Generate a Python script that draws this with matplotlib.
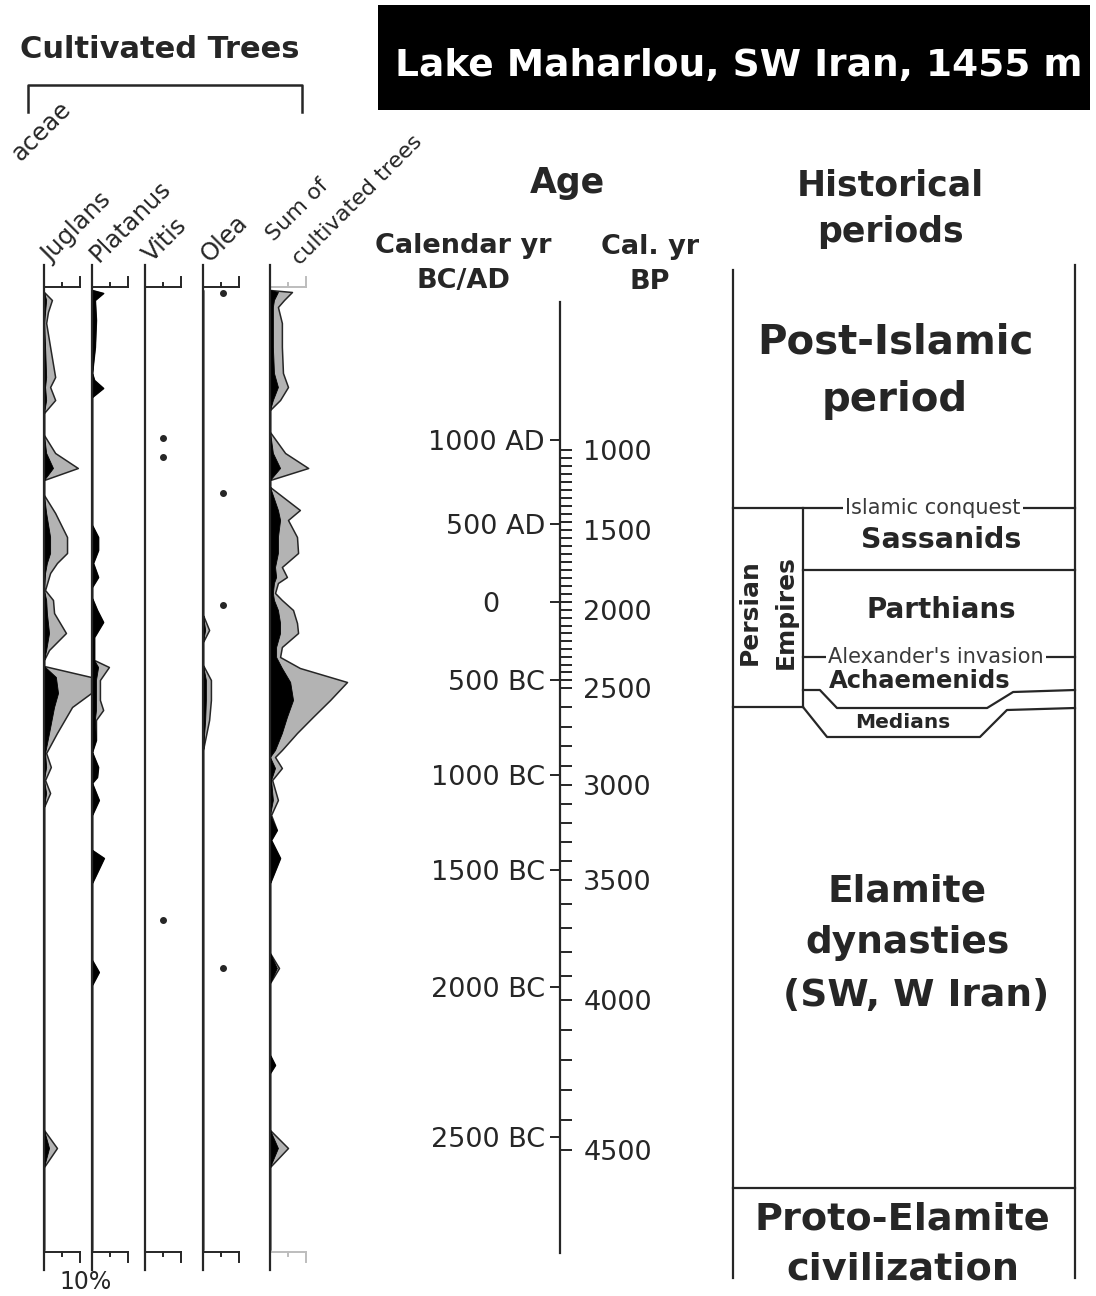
import numpy as np
import matplotlib
matplotlib.use("Agg")
import matplotlib.pyplot as plt
from matplotlib.patches import Rectangle
from matplotlib import transforms

W, H = 1096, 1296
TOP, BOT = 290, 1252          # pixel rows of depth 0 and of the deepest level drawn
DEPTH_MAX = BOT - TOP
PX_PER_PCT = 3.6              # 10 % = 36 px on every pollen column
INK = "#262626"
GREY = "#b3b3b3"

# ---- pollen curves: depth, percentage (black) and exaggerated curve (grey) ----
juglans_depth = [2, 10, 22, 33, 57, 87, 97, 110, 123, 145, 163, 178, 190, 205, 223, 247, 263, 273,
                 283, 300, 310, 323, 343, 360, 370, 376, 387, 403, 417, 443, 463, 477, 490, 503, 517,
                 840, 858, 877, 960]
juglans_pct = [0, 0.6, 0.3, 0, 0.3, 0.6, 0.3, 0.6, 0, 0, 0.6, 2.5, 0, 0, 0.6, 1.7, 1.7, 0.8,
               0.3, 0, 0.6, 0.8, 1.4, 0.6, 0, 0, 3.3, 3.9, 2.8, 1.4, 0.3, 0.6, 0, 0.6, 0,
               0, 1.4, 0, 0]
juglans_exag = [0, 2.2, 1.1, 0.6, 1.7, 3.1, 1.7, 3.1, 0, 0, 3.1, 9.4, 0, 0, 3.1, 6.4, 6.4, 3.6,
                1.7, 0.3, 2.5, 2.8, 6.1, 1.4, 0, 0, 13.1, 13.1, 7.8, 3.6, 0.6, 1.9, 0.3, 1.7, 0,
                0, 3.6, 0, 0]

platanus_depth = [0, 3, 10, 30, 57, 83, 90, 98, 107, 235, 247, 260, 273, 287, 297, 308, 320, 332,
                  347, 370, 377, 390, 410, 420, 430, 450, 462, 477, 487, 493, 510, 525, 560, 568,
                  593, 670, 682, 695, 960]
platanus_pct = [0, 3.1, 0.8, 1.1, 0.8, 0, 0.6, 3.1, 0, 0, 1.7, 1.7, 0.3, 1.7, 0, 0, 1.4, 3.1,
                0.6, 0.6, 1.7, 1.1, 1.1, 1.1, 0.8, 1.1, 0, 1.7, 1.4, 0, 1.9, 0, 0, 3.3,
                0, 0, 1.9, 0, 0]
platanus_exag = [0, 3.1, 0.8, 1.1, 0.8, 0, 0.6, 3.1, 0, 0, 1.7, 1.7, 0.3, 1.7, 0, 0, 1.4, 3.1,
                 0.6, 0.6, 4.7, 2.2, 2.2, 3.1, 1.1, 1.1, 0, 1.7, 1.4, 0, 1.9, 0, 0, 3.3,
                 0, 0, 1.9, 0, 0]

olea_depth = [0, 310, 325, 340, 352, 375, 390, 410, 430, 460, 960]
olea_pct = [0, 0, 0, 0.6, 0, 0, 0.8, 0.8, 0.6, 0, 0]
olea_exag = [0, 0, 0, 1.7, 0, 0, 2.2, 2.2, 1.7, 0, 0]

sum_depth = [0, 2, 10, 17, 33, 57, 83, 97, 110, 120, 142, 163, 178, 190, 197, 220, 230, 247, 263,
             277, 287, 293, 303, 310, 320, 333, 343, 357, 367, 378, 392, 410, 427, 443, 460, 467,
             478, 490, 510, 525, 540, 550, 568, 593, 663, 678, 693, 765, 775, 783, 840, 858, 877,
             960]
sum_pct = [0, 2.2, 1.1, 0.8, 0.8, 0.8, 1.1, 2.2, 0.8, 0, 0, 0.8, 2.8, 0, 0, 2.2, 2.8, 2.2, 2.2,
           1.4, 1.7, 1.1, 0.8, 1.1, 2.2, 2.8, 2.8, 1.7, 1.7, 3.3, 5.6, 6.4, 4.7, 3.3, 1.4, 0,
           1.4, 0.3, 0.8, 0, 1.9, 0.3, 2.8, 0, 0, 1.9, 0, 0, 1.4, 0, 0, 2.2, 0, 0]
sum_exag = [0, 6.1, 3.9, 2.2, 3.3, 3.3, 3.6, 5.0, 2.8, 0, 0, 4.2, 10.6, 0, 0, 8.3, 5.0, 7.5, 7.8,
            3.3, 4.7, 2.2, 1.4, 3.3, 6.4, 7.5, 7.8, 3.3, 2.8, 8.3, 21.4, 16.7, 11.9, 7.5, 3.3, 1.4,
            3.3, 0.6, 2.2, 0.3, 1.9, 0.3, 2.8, 0, 0, 2.5, 0, 0, 1.4, 0, 0, 5.0, 0, 0]

# single grains (dots)
vitis_dots = [148, 167, 630]
olea_dots = [3, 203, 315, 678]

# ---- age scale ----
bp_labels = ["1000", "1500", "2000", "2500", "3000", "3500", "4000", "4500"]
bp_years = [1000, 1500, 2000, 2500, 3000, 3500, 4000, 4500]
bp_depths = [160, 240, 320, 398, 495, 590, 710, 860]
cal_labels = ["1000 AD", "500 AD", "0", "500 BC", "1000 BC", "1500 BC", "2000 BC", "2500 BC"]
cal_depths = [150, 234, 312, 390, 485, 580, 697, 847]

# ---- historical period boundaries (depth) ----
islamic_conquest = 218
sassanid_start = 280
alexander = 367
achaemenid_base, achaemenid_dip = 400, 418
persian_base = 417
median_base = 447
proto_elamite_top = 898

plt.rcParams["font.family"] = "DejaVu Sans"
fig = plt.figure(figsize=(W / 100, H / 100), dpi=100)

# pixel overlay for headers
ov = fig.add_axes([0, 0, 1, 1])
ov.set_xlim(0, W)
ov.set_ylim(H, 0)
ov.axis("off")
ov.patch.set_alpha(0)

ov.text(20, 50, "Cultivated Trees", fontsize=22, fontweight="bold", color=INK, va="center")
ov.plot([28, 28, 302, 302], [112, 85, 85, 112], color=INK, lw=1.8)
box = Rectangle((378, 5), 712, 105, facecolor="black", edgecolor="none")
ov.add_patch(box)
ov.text(395, 76, "Lake Maharlou, SW Iran, 1455 m", fontsize=27, fontweight="bold",
        color="white", va="baseline")

ov.text(567, 183, "Age", fontsize=25, fontweight="bold", color=INK, ha="center", va="center")
ov.text(463, 246, "Calendar yr", fontsize=19.5, fontweight="bold", color=INK, ha="center", va="center")
ov.text(463, 281, "BC/AD", fontsize=19.5, fontweight="bold", color=INK, ha="center", va="center")
ov.text(650, 247, "Cal. yr", fontsize=19.5, fontweight="bold", color=INK, ha="center", va="center")
ov.text(650, 282, "BP", fontsize=19.5, fontweight="bold", color=INK, ha="center", va="center")
ov.text(890, 185, "Historical", fontsize=25, fontweight="bold", color=INK, ha="center", va="center")
ov.text(890, 232, "periods", fontsize=25, fontweight="bold", color=INK, ha="center", va="center")

# ---- pollen columns ----
col_x = [44, 92, 145, 203, 270]
col_w = [48, 53, 58, 67, 90]
taxa = ["Juglans", "Platanus", "Vitis", "Olea", None]


def column_axes(x_px, w_px):
    ax = fig.add_axes([x_px / W, 1 - BOT / H, w_px / W, DEPTH_MAX / H])
    ax.set_xlim(0, w_px / PX_PER_PCT)
    ax.set_ylim(DEPTH_MAX, 0)
    ax.axis("off")
    ax.patch.set_alpha(0)
    ax.plot([0, 0], [-25, DEPTH_MAX + 18], color=INK, lw=1.6, clip_on=False, zorder=5)
    return ax


def scale_bars(ax, color):
    for yb, sgn in ((-3, -1), (DEPTH_MAX, 1)):
        ax.plot([0, 10], [yb, yb], color=color, lw=1.4, clip_on=False)
        ax.plot([5, 5], [yb, yb + sgn * 4], color=color, lw=1.4, clip_on=False)
        ax.plot([10, 10], [yb, yb + sgn * 10], color=color, lw=1.4, clip_on=False)


def draw_curve(ax, depth, pct, exag):
    ax.fill_betweenx(depth, 0, exag, facecolor=GREY, edgecolor=INK, lw=1.1, clip_on=False)
    ax.fill_betweenx(depth, 0, pct, facecolor="black", edgecolor="black", lw=0.6, clip_on=False)


axes = [column_axes(x, w) for x, w in zip(col_x, col_w)]
draw_curve(axes[0], juglans_depth, juglans_pct, juglans_exag)
draw_curve(axes[1], platanus_depth, platanus_pct, platanus_exag)
draw_curve(axes[3], olea_depth, olea_pct, olea_exag)
draw_curve(axes[4], sum_depth, sum_pct, sum_exag)
axes[2].plot([5.0] * len(vitis_dots), vitis_dots, "o", ms=4, color=INK, clip_on=False)
axes[3].plot([5.5] * len(olea_dots), olea_dots, "o", ms=4, color=INK, clip_on=False)
for i, ax in enumerate(axes):
    scale_bars(ax, INK if i < 4 else "#bdbdbd")

for x, name in zip(col_x, taxa):
    if name:
        ov.text(x + 7, 263, name, fontsize=17.5, color=INK, rotation=45,
                rotation_mode="anchor", ha="left", va="baseline")
ov.text(col_x[4] + 4, 242, "Sum of", fontsize=16, color=INK, rotation=45,
        rotation_mode="anchor", ha="left", va="baseline")
ov.text(col_x[4] + 30, 266, "cultivated trees", fontsize=16, color=INK, rotation=45,
        rotation_mode="anchor", ha="left", va="baseline")
# label of the column that lies beyond the left edge: only its ending shows
ov.text(72, 110, "aceae", fontsize=17.5, color=INK, rotation=45,
        rotation_mode="anchor", ha="right", va="baseline")
ov.text(86, 1282, "10%", fontsize=17, color=INK, ha="center", va="center")

# ---- age axis ----
ax_age = fig.add_axes([560 / W, 1 - BOT / H, 1 / W, DEPTH_MAX / H])
ax_age.set_ylim(DEPTH_MAX, 0)
ax_age.set_xticks([])
ax_age.patch.set_alpha(0)
for s in ("top", "bottom", "right"):
    ax_age.spines[s].set_visible(False)
ax_age.spines["left"].set_color(INK)
ax_age.spines["left"].set_linewidth(1.6)
ax_age.spines["left"].set_bounds(12, DEPTH_MAX + 1)
ax_age.set_yticks(cal_depths)
ax_age.tick_params(axis="y", left=True, labelleft=False, direction="out", length=7,
                   width=1.4, color=INK)
ytrans = ax_age.get_yaxis_transform()
for lab, d in zip(cal_labels, cal_depths):
    if lab == "0":
        tr = transforms.offset_copy(ytrans, fig=fig, x=-69, y=0, units="dots")
        ax_age.text(0, d, lab, transform=tr, fontsize=19.5, color=INK, ha="center",
                    va="center_baseline")
    else:
        tr = transforms.offset_copy(ytrans, fig=fig, x=-15, y=0, units="dots")
        ax_age.text(0, d, lab, transform=tr, fontsize=19.5, color=INK, ha="right",
                    va="center_baseline")

ax_bp = ax_age.twinx()
ax_bp.set_ylim(DEPTH_MAX, 0)
for s in ax_bp.spines.values():
    s.set_visible(False)
ax_bp.set_yticks(bp_depths, bp_labels)
minor_years = [y for y in list(range(1050, 2500, 50)) + list(range(2600, 4500, 100))
               if y not in bp_years]
ax_bp.set_yticks(np.interp(minor_years, bp_years, bp_depths), minor=True)
ax_bp.tick_params(axis="y", which="both", right=True, direction="out", length=8, width=1.4,
                  color=INK, labelsize=19.5, labelcolor=INK, pad=8)

# ---- historical periods panel ----
hx0, hx1 = 733, 1075
axh = fig.add_axes([hx0 / W, 1 - BOT / H, (hx1 - hx0) / W, DEPTH_MAX / H])
axh.set_xlim(0, 1)
axh.set_ylim(DEPTH_MAX, 0)
axh.axis("off")
axh.patch.set_alpha(0)
inner = (803 - hx0) / (hx1 - hx0)
lk = dict(color=INK, lw=1.6, clip_on=False)
axh.plot([0, 0], [-20, 988], **lk)
axh.plot([1, 1], [-25, 988], **lk)
axh.plot([0, 1], [islamic_conquest] * 2, **lk)
axh.plot([inner, inner], [islamic_conquest, persian_base], **lk)
axh.plot([0, inner], [persian_base] * 2, **lk)
axh.plot([inner, 1], [sassanid_start] * 2, **lk)
axh.plot([inner, 1], [alexander] * 2, **lk)
axh.plot([inner, 0.254, 0.304, 0.743, 0.819, 1],
         [achaemenid_base, achaemenid_base, achaemenid_dip, achaemenid_dip,
          achaemenid_base + 2, achaemenid_base], **lk)
axh.plot([inner, 0.275, 0.722, 0.801, 1],
         [persian_base, median_base, median_base, achaemenid_dip + 2, achaemenid_dip], **lk)
axh.plot([0, 1], [proto_elamite_top] * 2, **lk)

bold = dict(color=INK, fontweight="bold", ha="center", va="center")
axh.text(0.474, 53, "Post-Islamic", fontsize=29, **bold)
axh.text(0.474, 110, "period", fontsize=29, **bold)
axh.text(0.585, islamic_conquest, "Islamic conquest", fontsize=15, color="#3a3a3a",
         ha="center", va="center", bbox=dict(facecolor="white", edgecolor="none", pad=1.5))
axh.text(0.608, 250, "Sassanids", fontsize=20.5, **bold)
axh.text(0.608, 320, "Parthians", fontsize=20, **bold)
axh.text(0.05, 322, "Persian", fontsize=18, rotation=90, **bold)
axh.text(0.155, 322, "Empires", fontsize=18, rotation=90, **bold)
axh.text(0.594, alexander, "Alexander's invasion", fontsize=15, color="#3a3a3a",
         ha="center", va="center", bbox=dict(facecolor="white", edgecolor="none", pad=1.5))
axh.text(0.547, 391, "Achaemenids", fontsize=17.5, **bold)
axh.text(0.497, 432, "Medians", fontsize=14.5, **bold)
axh.text(0.509, 602, "Elamite", fontsize=27, **bold)
axh.text(0.509, 653, "dynasties", fontsize=27, **bold)
axh.text(0.535, 706, "(SW, W Iran)", fontsize=27, **bold)
axh.text(0.496, 930, "Proto-Elamite", fontsize=27.5, **bold)
axh.text(0.496, 980, "civilization", fontsize=27.5, **bold)

fig.savefig("out.png", dpi=100, facecolor="white")
